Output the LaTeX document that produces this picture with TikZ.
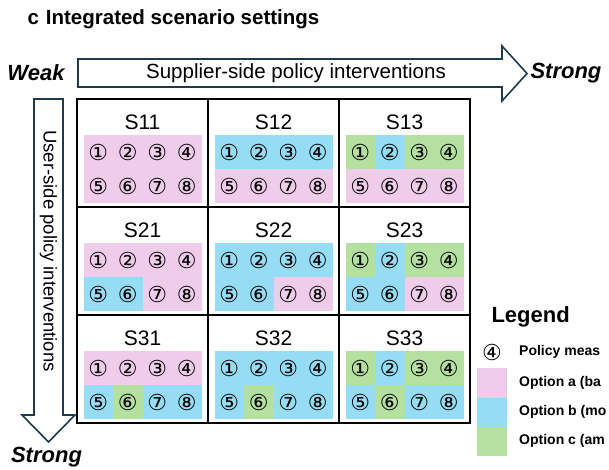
\documentclass[tikz,border=0pt]{standalone}
\usepackage{fontspec}
\setmainfont{Liberation Sans}
\newfontfamily\circfont{DejaVu Sans}
\usepackage{tikz}

\definecolor{opta}{HTML}{F0CCEB}
\definecolor{optb}{HTML}{96DCF5}
\definecolor{optc}{HTML}{B4E0A0}
\definecolor{arrowline}{HTML}{1E3A4C}

\tikzset{
  cellbox/.style={draw=black, line width=1.5pt},
  cellname/.style={font=\fontsize{21}{21}\selectfont},
  measure/.style={font=\circfont\fontsize{22}{22}\selectfont, inner sep=0pt},
  bigarrow/.style={draw=arrowline, fill=white, line width=1.6pt, line join=miter},
  sidelabel/.style={font=\fontsize{22}{22}\selectfont\bfseries\itshape},
  axistext/.style={font=\fontsize{20.5}{20.5}\selectfont},
  legtext/.style={font=\fontsize{14}{14}\selectfont\bfseries, anchor=west, inner sep=0pt},
}

\begin{document}
\begin{tikzpicture}[x=1pt, y=-1pt]

  \clip (0,0) rectangle (609,470);

  \node[anchor=west, font=\fontsize{20.5}{20.5}\selectfont\bfseries] (title) at (24,19) {c\hspace{7pt}Integrated scenario settings};

  % supplier side arrow
  \draw[bigarrow] (78,59) -- (502,59) -- (502,46) -- (527,73.5) -- (502,101) -- (502,87) -- (78,87) -- cycle;
  \node[axistext] (supp) at (296,73) {Supplier-side policy interventions};
  \node[sidelabel] (weak) at (36,73) {Weak};
  \node[sidelabel, anchor=west] (strongh) at (527,73) {Strong};

  % user side arrow
  \draw[bigarrow] (34,99) -- (63,99) -- (63,415) -- (75,415) -- (48.5,442) -- (22,415) -- (34,415) -- cycle;
  \node[axistext, font=\fontsize{18.5}{18.5}\selectfont, rotate=-90] (user) at (48.5,251) {User-side policy interventions};
  \node[sidelabel] (strongv) at (46.5,457) {Strong};

  % scenario cells
  \foreach \r/\c/\cols in {
    1/1/{a,a,a,a,a,a,a,a},
    1/2/{b,b,b,b,a,a,a,a},
    1/3/{c,b,c,c,a,a,a,a},
    2/1/{a,a,a,a,b,b,a,a},
    2/2/{b,b,b,b,b,b,a,a},
    2/3/{c,b,c,c,b,b,a,a},
    3/1/{a,a,a,a,b,c,b,b},
    3/2/{b,b,b,b,b,c,b,b},
    3/3/{c,b,c,c,b,c,b,b}}{
    \pgfmathsetmacro{\xl}{77+131*(\c-1)}
    \pgfmathsetmacro{\yt}{99+108*(\r-1)}
    \node[cellname] (S\r\c) at (\xl+65.5,\yt+23) {S\r\c};
    \foreach \k [count=\i] in \cols {
      \pgfmathsetmacro{\col}{mod(\i-1,4)}
      \pgfmathsetmacro{\row}{int((\i-1)/4)}
      \fill[opt\k] (\xl+6.5+29.5*\col,\yt+36+34*\row) rectangle ++(29.5,34);
      \node[measure] (m\r\c\i) at (\xl+21.25+29.5*\col,\yt+53+34*\row) {\char\numexpr"245F+\i\relax};
    }
    \draw[cellbox] (\xl,\yt) rectangle ++(131,108);
  }

  % legend
  \node[font=\fontsize{22}{22}\selectfont\bfseries, anchor=west] (legend) at (488,317) {Legend};
  \node[measure] (legm) at (492,352) {④};
  \node[legtext] (legmt) at (519,352) {Policy meas};
  \fill[opta] (477,368) rectangle (507,398);
  \fill[optb] (477,398) rectangle (507,427);
  \fill[optc] (477,427) rectangle (507,456);
  \node[legtext] (lega) at (519,383) {Option a (ba};
  \node[legtext] (legb) at (519,412) {Option b (mo};
  \node[legtext] (legc) at (519,441) {Option c (am};

\end{tikzpicture}
\end{document}
